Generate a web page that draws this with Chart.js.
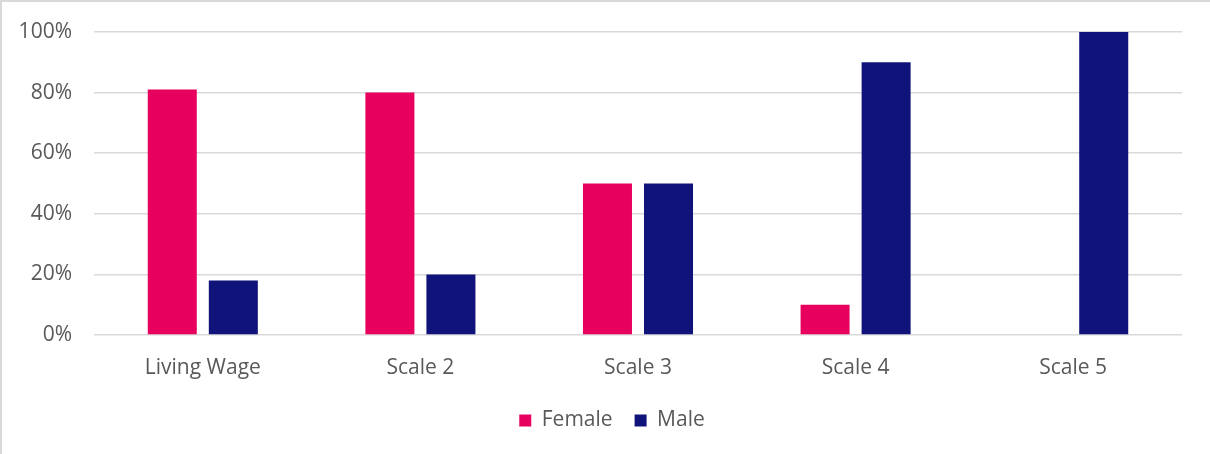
<!DOCTYPE html>
<html>
<head>
<meta charset="utf-8">
<script src="https://cdn.jsdelivr.net/npm/chart.js@4/dist/chart.umd.min.js"></script>
<style>
html,body{margin:0;padding:0;background:#fff;}
#wrap{position:relative;width:1210px;height:454px;box-sizing:border-box;border-top:2px solid #d9d9d9;border-left:2px solid #d9d9d9;}
#wrap canvas{position:absolute;left:-2px;top:-2px;}
</style>
</head>
<body>
<div id="wrap"><canvas id="c" width="1210" height="454"></canvas></div>
<script>
const categories = ["Living Wage", "Scale 2", "Scale 3", "Scale 4", "Scale 5"];
const femaleValues = [81, 80, 50, 10, 0];
const maleValues = [18, 20, 50, 90, 100];
const yTicks = [0, 20, 40, 60, 80, 100];

const FONT = "'Open Sans', sans-serif";
new Chart(document.getElementById('c'), {
  type: 'bar',
  data: {
    labels: categories,
    datasets: [
      { label: 'Female', data: femaleValues, backgroundColor: '#E8005F', categoryPercentage: 0.561, barPercentage: 0.803 },
      { label: 'Male', data: maleValues, backgroundColor: '#10147A', categoryPercentage: 0.561, barPercentage: 0.803 }
    ]
  },
  options: {
    responsive: false,
    animation: false,
    layout: { padding: { left: 14, right: 0, top: 32, bottom: 13 } },
    plugins: {
      tooltip: { enabled: false },
      legend: {
        position: 'bottom',
        labels: { boxWidth: 12, boxHeight: 12, padding: 22, color: '#595959', font: { family: FONT, size: 21 } }
      }
    },
    scales: {
      x: {
        afterFit: s => { s.height = 53; },
        grid: { display: false, drawTicks: false },
        border: { display: false },
        ticks: { color: '#595959', font: { family: FONT, size: 21 }, padding: 20 }
      },
      y: {
        min: 0, max: 100,
        afterFit: s => { s.width = 80; s.paddingTop = 0; s.paddingBottom = 0; },
        afterBuildTicks: s => { s.ticks = yTicks.map(v => ({ value: v })); },
        grid: { color: '#d9d9d9', lineWidth: 1.5, drawTicks: false },
        border: { display: false },
        ticks: { color: '#595959', font: { family: FONT, size: 21 }, padding: 22, callback: v => v + '%' }
      },
      yRight: {
        position: 'right',
        min: 0, max: 100,
        afterFit: s => { s.width = 28; },
        grid: { display: false, drawTicks: false },
        border: { display: false },
        ticks: { display: false }
      }
    }
  }
});
</script>
</body>
</html>
